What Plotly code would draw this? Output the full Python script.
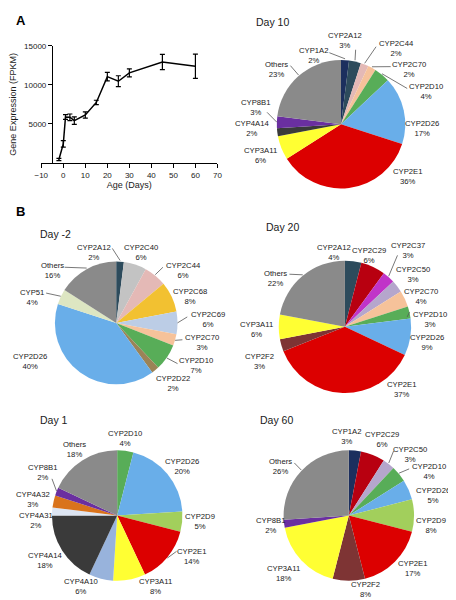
import math
import plotly.graph_objects as go

# target picture size and page offset (default body margin of the html page)
W, H = 456, 600
OFF = 8
FW, FH = W - OFF, H - OFF

# ---------------- Panel A data ----------------
age_days = [-2, 0, 1, 3, 5, 10, 15, 20, 25, 30, 45, 60]
expression_fpkm = [450, 2450, 5890, 5850, 5420, 6140, 7750, 11050, 10460, 11530, 12930, 12370]
expression_err = [150, 420, 300, 420, 470, 400, 280, 550, 700, 510, 975, 1550]
x_tick_vals = [-10, 0, 10, 20, 30, 40, 50, 60, 70]
y_tick_vals = [5000, 10000, 15000]
y_tick_text = ["5000", "10000", "15000"]

# ---------------- Panel B / pie data ----------------
day10_genes = ["CYP1A2", "CYP2A12", "CYP2C44", "CYP2C70", "CYP2D10", "CYP2D26",
               "CYP2E1", "CYP3A11", "CYP4A14", "CYP8B1", "Others"]
day10_pct = [2, 3, 2, 2, 4, 17, 36, 6, 2, 3, 23]

daym2_genes = ["CYP2A12", "CYP2C40", "CYP2C44", "CYP2C68", "CYP2C69", "CYP2C70",
               "CYP2D10", "CYP2D22", "CYP2D26", "CYP51", "Others"]
daym2_pct = [2, 6, 6, 8, 6, 3, 7, 2, 40, 4, 16]

day20_genes = ["CYP2A12", "CYP2C29", "CYP2C37", "CYP2C50", "CYP2C70", "CYP2D10",
               "CYP2D26", "CYP2E1", "CYP2F2", "CYP3A11", "Others"]
day20_pct = [4, 6, 3, 3, 4, 3, 9, 37, 3, 6, 22]

day1_genes = ["CYP2D10", "CYP2D26", "CYP2D9", "CYP2E1", "CYP3A11", "CYP4A10",
              "CYP4A14", "CYP4A31", "CYP4A32", "CYP8B1", "Others"]
day1_pct = [4, 20, 5, 14, 8, 6, 18, 2, 3, 2, 18]

day60_genes = ["CYP1A2", "CYP2C29", "CYP2C50", "CYP2D10", "CYP2D26", "CYP2D9",
               "CYP2E1", "CYP2F2", "CYP3A11", "CYP8B1", "Others"]
day60_pct = [3, 6, 3, 4, 5, 8, 17, 8, 18, 2, 26]

# ---------------- styles ----------------
gene_colors = {
    "CYP1A2": "#1c2f5e", "CYP2A12": "#2d4b5c", "CYP2C44": "#e4b9b6",
    "CYP2C70": "#f6c29a", "CYP2D10": "#58ad58", "CYP2D26": "#69aee9",
    "CYP2E1": "#dc0000", "CYP3A11": "#ffff33", "CYP4A14": "#3a3a3a",
    "CYP8B1": "#6a2fa0", "Others": "#8a8a8a", "CYP2C40": "#c3c3c3",
    "CYP2C68": "#f2c131", "CYP2C69": "#bccde6", "CYP2D22": "#9b8357",
    "CYP51": "#dde6c2", "CYP2C29": "#b80010", "CYP2C37": "#c034c8",
    "CYP2C50": "#b5a6cc", "CYP2F2": "#7e3434", "CYP2D9": "#a2cf5c",
    "CYP4A10": "#98b3dc", "CYP4A31": "#dde5f2", "CYP4A32": "#d9731c",
}
FONT = "Liberation Sans, Arial, sans-serif"
TXT = "#1a1a1a"
LAB_SIZE = 7.7

# layout of each pie (pixel centre, radius, title position, label positions, leader anchors)
pies = [
    dict(title="Day 10", genes=day10_genes, values=day10_pct, cx=343, cy=121, r=66,
         tpos=(254, 18),
         labels={"CYP1A2": (315, 52), "CYP2A12": (347, 37), "CYP2C44": (400, 45),
                 "CYP2C70": (413, 66), "CYP2D10": (430, 88), "CYP2D26": (426, 125),
                 "CYP2E1": (412, 174), "CYP3A11": (260, 152), "CYP4A14": (252, 125),
                 "CYP8B1": (256, 104), "Others": (277, 66)},
         leaders={"CYP1A2": (331, 49), "CYP2A12": (358, 46), "CYP2C44": (379, 43),
                  "CYP2C70": (394, 63), "CYP2D10": (411, 85), "CYP8B1": (267, 109),
                  "Others": (291, 62)}),
    dict(title="Day -2", genes=daym2_genes, values=daym2_pct, cx=112, cy=321, r=63,
         tpos=(32, 232),
         labels={"CYP2A12": (89, 250), "CYP2C40": (137, 250), "CYP2C44": (181, 268),
                 "CYP2C68": (188, 294), "CYP2C69": (206, 318), "CYP2C70": (200, 341),
                 "CYP2D10": (194, 364), "CYP2D22": (170, 382), "CYP2D26": (23, 360),
                 "CYP51": (25, 295), "Others": (47, 268)},
         leaders={"CYP2A12": (108, 246), "CYP2C44": (160, 265), "CYP2C69": (185, 315),
                  "CYP2C70": (180, 338), "CYP2D10": (175, 362), "CYP51": (40, 291),
                  "Others": (59, 265)}),
    dict(title="Day 20", genes=day20_genes, values=day20_pct, cx=347, cy=325, r=68,
         tpos=(264, 224),
         labels={"CYP2A12": (336, 250), "CYP2C29": (372, 253), "CYP2C37": (412, 248),
                 "CYP2C50": (417, 272), "CYP2C70": (425, 294), "CYP2D10": (434, 318),
                 "CYP2D26": (431, 341), "CYP2E1": (406, 388), "CYP2F2": (259, 360),
                 "CYP3A11": (256, 328), "Others": (276, 276)},
         leaders={"CYP2C37": (401, 253), "CYP2D10": (411, 315), "Others": (290, 272)}),
    dict(title="Day 1", genes=day1_genes, values=day1_pct, cx=113, cy=515, r=67,
         tpos=(32, 419),
         labels={"CYP2D10": (121, 437), "CYP2D26": (180, 466), "CYP2D9": (198, 521),
                 "CYP2E1": (190, 556), "CYP3A11": (152, 586), "CYP4A10": (76, 586),
                 "CYP4A14": (39, 560), "CYP4A31": (30, 520), "CYP4A32": (27, 499),
                 "CYP8B1": (37, 472), "Others": (69, 448)},
         leaders={"CYP8B1": (46, 478), "CYP2E1": (174, 551)}),
    dict(title="Day 60", genes=day60_genes, values=day60_pct, cx=351, cy=515, r=67,
         tpos=(258, 419),
         labels={"CYP1A2": (349, 435), "CYP2C29": (385, 438), "CYP2C50": (414, 454),
                 "CYP2D10": (433, 471), "CYP2D26": (438, 495), "CYP2D9": (435, 525),
                 "CYP2E1": (417, 568), "CYP2F2": (368, 589), "CYP3A11": (284, 573),
                 "CYP8B1": (271, 525), "Others": (281, 466)},
         leaders={"CYP2C50": (397, 450), "CYP2D10": (413, 468), "Others": (295, 462)}),
]


def px(x):
    return (x - OFF) / FW


def py(y):
    return 1 - (y - OFF) / FH


fig = go.Figure()

# ---------------- Panel A line chart ----------------
fig.add_trace(go.Scatter(
    x=age_days, y=expression_fpkm, mode="lines",
    line=dict(color="black", width=1.5),
    error_y=dict(type="data", array=expression_err, visible=True,
                 color="black", thickness=1.2, width=2.5),
    showlegend=False, hoverinfo="skip",
))

annotations = []
shapes = []

# ---------------- Pies ----------------
for p in pies:
    cx, cy, r = p["cx"], p["cy"], p["r"]
    fig.add_trace(go.Pie(
        labels=p["genes"], values=p["values"], sort=False, direction="clockwise",
        rotation=0, textinfo="none", hoverinfo="label+percent",
        marker=dict(colors=[gene_colors[g] for g in p["genes"]], line=dict(width=0)),
        domain=dict(x=[px(cx - r), px(cx + r)], y=[py(cy + r), py(cy - r)]),
        showlegend=False,
    ))
    annotations.append(dict(
        text=p["title"], x=px(p["tpos"][0]), y=py(p["tpos"][1]), xref="paper", yref="paper",
        xanchor="left", yanchor="middle", showarrow=False,
        font=dict(family=FONT, size=10.5, color=TXT)))
    total = sum(p["values"])
    cum = 0
    for g, v in zip(p["genes"], p["values"]):
        mid = 2 * math.pi * (cum + v / 2) / total
        cum += v
        lx, ly = p["labels"][g]
        annotations.append(dict(
            text=f"{g}<br>{v}%", x=px(lx), y=py(ly), xref="paper", yref="paper",
            xanchor="center", yanchor="middle", showarrow=False, align="center",
            font=dict(family=FONT, size=LAB_SIZE, color=TXT)))
        if g in p["leaders"]:
            ax, ay = p["leaders"][g]
            ex = cx + r * math.sin(mid)
            ey = cy - r * math.cos(mid)
            shapes.append(dict(type="line", xref="paper", yref="paper",
                               x0=px(ex), y0=py(ey), x1=px(ax), y1=py(ay),
                               line=dict(color="#555555", width=0.8)))

# panel letters
annotations.append(dict(text="<b>A</b>", x=px(8), y=py(8), xref="paper", yref="paper",
                        xanchor="left", yanchor="top", showarrow=False, borderpad=0,
                        font=dict(family=FONT, size=13, color="black")))
annotations.append(dict(text="<b>B</b>", x=px(8), y=py(209), xref="paper", yref="paper",
                        xanchor="left", yanchor="middle", showarrow=False, borderpad=0,
                        font=dict(family=FONT, size=13, color="black")))

fig.update_layout(
    width=FW, height=FH, margin=dict(l=0, r=0, t=0, b=0),
    paper_bgcolor="white", plot_bgcolor="white",
    font=dict(family=FONT, color=TXT),
    xaxis=dict(domain=[px(35), px(216)], range=[-10, 70], tickvals=x_tick_vals,
               showgrid=False, zeroline=False, showline=True, linecolor="black",
               linewidth=1.2, ticks="outside", ticklen=4, tickwidth=1.2, tickcolor="black",
               tickfont=dict(family=FONT, size=8, color=TXT),
               title=dict(text="Age (Days)", font=dict(family=FONT, size=9, color=TXT),
                          standoff=3),
               anchor="y", fixedrange=True),
    yaxis=dict(domain=[py(160), py(42)], range=[0, 15000], tickvals=y_tick_vals,
               ticktext=y_tick_text,
               showgrid=False, zeroline=False, showline=True, linecolor="black",
               linewidth=1.2, ticks="outside", ticklen=4, tickwidth=1.2, tickcolor="black",
               tickfont=dict(family=FONT, size=8, color=TXT),
               title=dict(text="Gene Expression (FPKM)",
                          font=dict(family=FONT, size=9, color=TXT), standoff=4),
               anchor="free", position=px(46), fixedrange=True),
    annotations=annotations, shapes=shapes,
)

fig.write_html("out.html")
